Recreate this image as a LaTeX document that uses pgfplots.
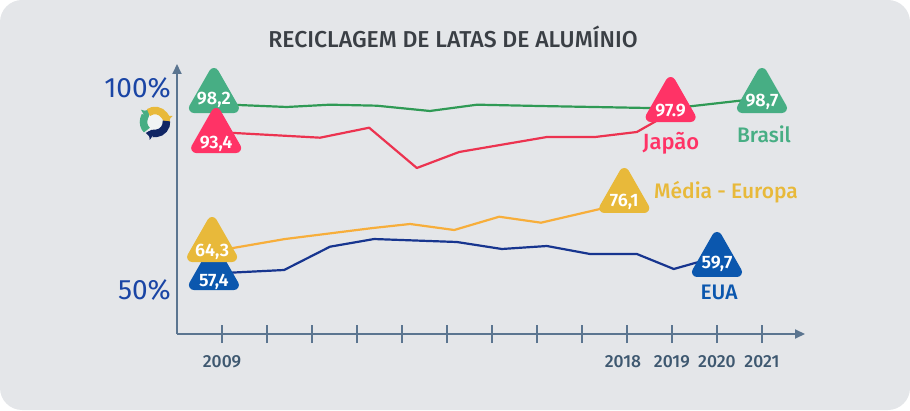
\documentclass[border=0pt]{standalone}
\usepackage{fontspec}
\usepackage{pgfplots}
\pgfplotsset{compat=1.18}
\usetikzlibrary{arrows.meta}
\setmainfont{Fira Sans}
\newfontfamily\med{Fira Sans Medium}
\newfontfamily\semi{Fira Sans SemiBold}
\definecolor{panel}{HTML}{E4E6E9}
\definecolor{axiscol}{HTML}{5B7590}
\definecolor{yearcol}{HTML}{3E5870}
\definecolor{titlecol}{HTML}{3A3F45}
\definecolor{ycol}{HTML}{1A45A5}
\definecolor{lgreen}{HTML}{2F9A55}
\definecolor{lred}{HTML}{EC3350}
\definecolor{lorange}{HTML}{F7AE3B}
\definecolor{lblue}{HTML}{17358F}
\definecolor{tgreen}{HTML}{47AE84}
\definecolor{tred}{HTML}{FF3366}
\definecolor{tyellow}{HTML}{E8B93A}
\definecolor{tblue}{HTML}{0B57AE}
% rounded triangle, base centre on the point
\pgfdeclareplotmark{tag}{%
  \pgfsetlinewidth{10pt}\pgfsetroundjoin
  \pgfpathmoveto{\pgfpoint{-20pt}{5pt}}
  \pgfpathlineto{\pgfpoint{20pt}{5pt}}
  \pgfpathlineto{\pgfpoint{0pt}{40pt}}
  \pgfpathclose
  \pgfusepathqfillstroke
}
\pgfplotsset{
  tag/.style={only marks, mark=tag, color=#1, point meta=explicit symbolic,
    nodes near coords={\pgfplotspointmeta},
    nodes near coords style={text=white, font=\fontsize{18}{18}\selectfont\semi,
      anchor=center, yshift=13pt, inner sep=0pt}},
  serie/.style={line width=2.2pt, color=#1, mark=none, line join=round},
}
\begin{document}
\begin{tikzpicture}
\useasboundingbox (0,0) rectangle (910pt,410pt);
\fill[panel, rounded corners=22pt] (0,0) rectangle (910pt,410pt);
\begin{axis}[
  at={(177pt,76pt)}, anchor=south west,
  scale only axis, width=628pt, height=270pt,
  xmin=2008, xmax=2021.956, ymin=39.11, ymax=105.94,
  clip=false,
  axis lines=left,
  axis line style={axiscol, line width=2pt, -{Triangle[length=10pt,width=9pt]}},
  xtick={2009,...,2021},
  xticklabels={2009,,,,,,,,,{\hspace*{-8pt}2018},2019,2020,2021},
  ytick={50,100},
  yticklabels={50\%,100\%},
  tick align=center,
  x tick style={axiscol, line width=1.6pt},
  y tick style={draw=none},
  major tick length=18pt,
  xticklabel style={font=\fontsize{17.5}{17.5}\selectfont\med, text=yearcol, inner sep=0pt, anchor=center, yshift=-19pt},
  yticklabel style={font=\fontsize{28}{28}\selectfont, text=ycol, inner sep=0pt, anchor=east, xshift=3pt},
]
\addplot[serie=lgreen] coordinates {
  (2008.82,96.04) (2010.44,95.30) (2011.40,95.87) (2012.44,95.62) (2013.62,94.31)
  (2014.67,95.87) (2016.07,95.54) (2018.47,95.05) (2018.98,94.93) (2020.51,96.86) (2021.00,97.52)};
\addplot[serie=lred] coordinates {
  (2008.87,89.11) (2011.18,87.70) (2012.27,90.17) (2013.33,80.20) (2014.27,84.16)
  (2016.22,87.87) (2017.29,87.87) (2018.22,89.11) (2018.96,93.81)};
\addplot[serie=lorange] coordinates {
  (2008.78,59.50) (2010.40,62.62) (2012.36,65.35) (2013.18,66.34) (2014.16,64.85)
  (2015.16,68.14) (2016.09,66.66) (2017.40,70.05) (2017.93,71.44)};
\addplot[serie=lblue] coordinates {
  (2008.82,54.08) (2010.38,54.95) (2011.40,60.72) (2012.38,62.62) (2014.22,61.88)
  (2015.22,60.15) (2016.22,60.89) (2017.18,58.91) (2018.22,58.91) (2019.04,55.20)
  (2019.51,56.68) (2020.00,58.17)};
% tags
\addplot[tag=tgreen] coordinates {(2008.82,93.81)[98,2]};
\addplot[tag=tgreen, nodes near coords style={yshift=-2pt}] coordinates {(2021.00,93.81)[98,7]};
\addplot[tag=tred, nodes near coords style={yshift=-4pt}] coordinates {(2008.87,83.91)[93,4]};
\addplot[tag=tred, nodes near coords style={yshift=-2pt}] coordinates {(2018.97,91.58)[97.9]};
\addplot[tag=tblue, nodes near coords style={yshift=-5pt}] coordinates {(2008.82,50.00)[57,4]};
\addplot[tag=tblue] coordinates {(2020.00,53.22)[59,7]};
\addplot[tag=tyellow, nodes near coords style={yshift=-3pt}] coordinates {(2008.78,56.93)[64,3]};
\addplot[tag=tyellow, nodes near coords style={yshift=-2pt}] coordinates {(2017.94,69.06)[76,1]};
\end{axis}
\node[text=titlecol, font=\fontsize{23}{23}\selectfont\med] at (453pt,373pt) {RECICLAGEM DE LATAS DE ALUMÍNIO};
\node[text=tred, font=\fontsize{22}{22}\selectfont\med] at (671pt,267pt) {Japão};
\node[text=tgreen, font=\fontsize{21}{21}\selectfont\med] at (764pt,276pt) {Brasil};
\node[text=tyellow, font=\fontsize{21}{21}\selectfont\med] at (726pt,218pt) {Média - Europa};
\node[text=tblue, font=\fontsize{21}{21}\selectfont\med] at (719pt,118pt) {EUA};
% recycling icon
\begin{scope}[shift={(155pt,288pt)}, line width=7.5pt]
  \fill[white!50!panel] (0,0) circle (11pt);
  \draw[tgreen, -{Triangle[length=6pt,width=12pt]}] (225:11.5pt) arc (225:120:11.5pt);
  \draw[tyellow, -{Triangle[length=6pt,width=12pt]}] (125:11.5pt) arc (125:0:11.5pt);
  \draw[lblue!70!black, -{Triangle[length=6pt,width=12pt]}] (5:11.5pt) arc (5:-125:11.5pt);
\end{scope}
\end{tikzpicture}
\end{document}
